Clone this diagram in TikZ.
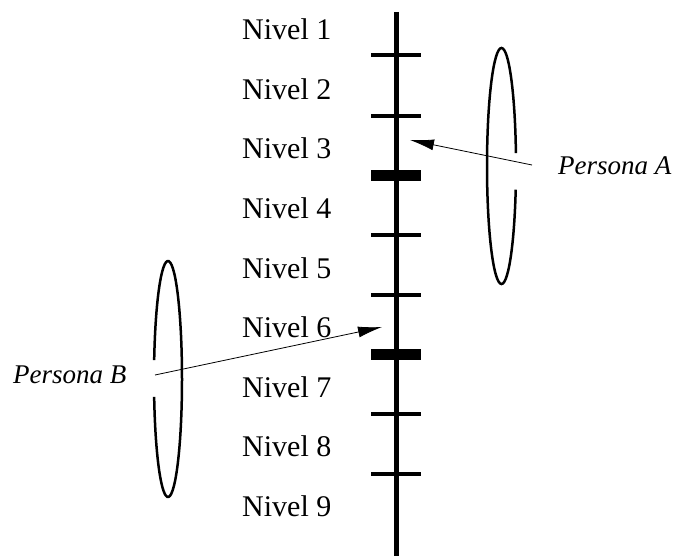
\documentclass[tikz,border=0pt]{standalone}
\usepackage{fontspec}
\setmainfont{Liberation Serif}
\usetikzlibrary{arrows.meta}
\begin{document}
\begin{tikzpicture}
[x=1pt, y=-1pt, tick/.style={line width=4.5pt}, bigtick/.style={line width=11pt},
lbl/.style={anchor=base west, inner sep=0pt, font=\rmfamily\fontsize{30}{33}\selectfont},
halo/.style={line width=2.5pt}, ptr/.style={line width=0.8pt, -{Latex[length=24pt,width=11pt]}}]
\useasboundingbox (0,0) rectangle (677,556);
\coordinate (top) at (396,12);
\coordinate (bot) at (396,556);
\draw[line width=5pt] (top) -- (bot);
\foreach \y in {55,116,235,295,414,474} \draw[tick] (371,\y) -- (421,\y);
\foreach \y in {176,354} \draw[bigtick] (371,\y) -- (421,\y);
\foreach \i in {1,...,9} \node[lbl] (n\i) at (242,{40+59.5*(\i-1)}) {Nivel \i};
% the two persons
\node[lbl, font=\rmfamily\fontsize{27}{30}\selectfont\itshape] (pa) at (558,175) {Persona A};
\node[lbl, font=\rmfamily\fontsize{27}{30}\selectfont\itshape] (pb) at (13,383) {Persona B};
\draw[halo] (501.5,166) ++(11.6:14.5 and 118) arc[start angle=11.6, end angle=353.7, x radius=14.5, y radius=118];
\draw[halo] (168,379) ++(189.2:14 and 118) arc[start angle=189.2, end angle=531.3, x radius=14, y radius=118];
\coordinate (ta) at (532,165);
\coordinate (ha) at (410,140);
\coordinate (tb) at (155,375);
\coordinate (hb) at (382,327);
\draw[ptr] (ta) -- (ha);
\draw[ptr] (tb) -- (hb);
\end{tikzpicture}
\end{document}
